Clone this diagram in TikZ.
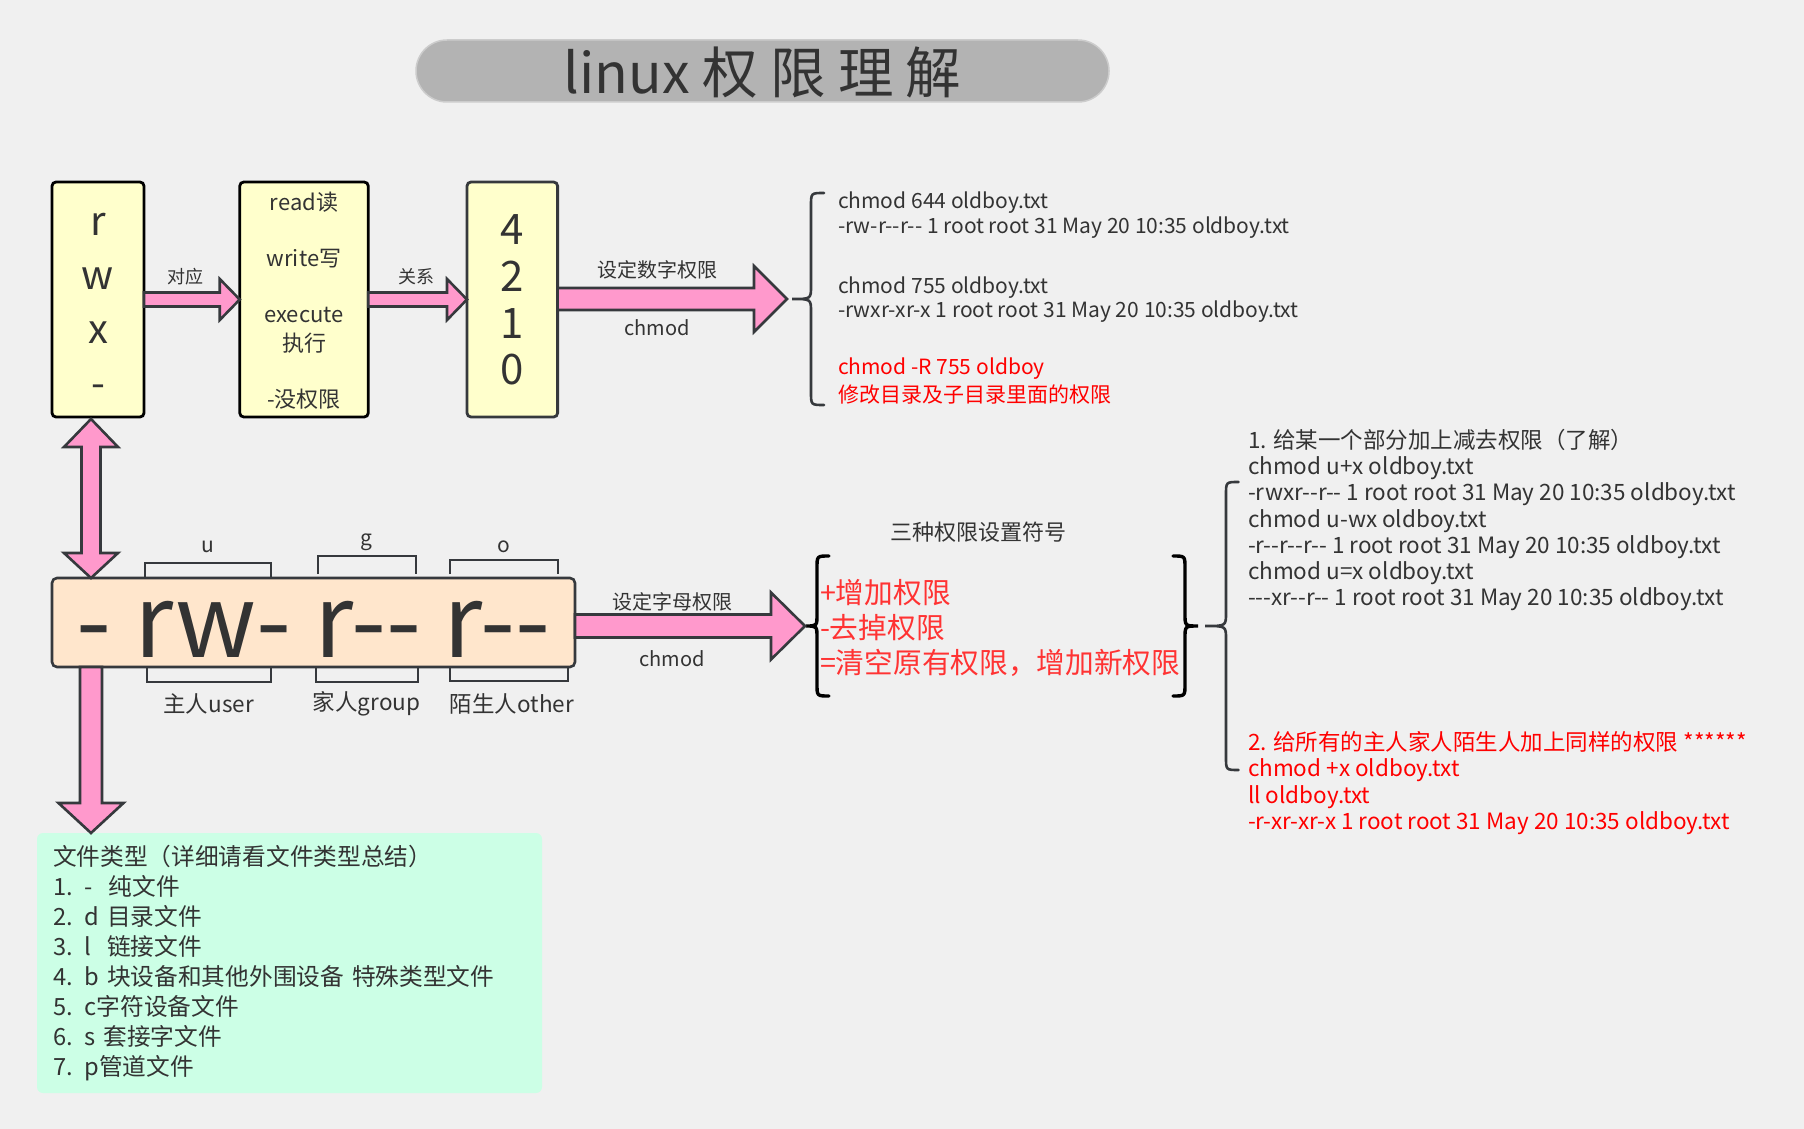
\documentclass[tikz,border=0pt]{standalone}
\usepackage{fontspec}
\newfontfamily\cjk[Ligatures=TeXOff]{Noto Sans CJK SC}
\usetikzlibrary{calc}
\definecolor{bg}{HTML}{F0F0F0}
\definecolor{txt}{HTML}{333333}
\definecolor{edge}{HTML}{36393D}
\definecolor{yel}{HTML}{FFFFCC}
\definecolor{peach}{HTML}{FFE6CC}
\definecolor{pinkf}{HTML}{FF99CC}
\definecolor{mint}{HTML}{CCFFE6}
\definecolor{pillg}{HTML}{B3B3B3}
\definecolor{pilledge}{HTML}{CCCCCC}
\definecolor{redt}{HTML}{FF0000}
\definecolor{redl}{HTML}{FF3333}
\newcommand\fz[2]{\fontsize{#1pt}{#2pt}\selectfont}
\begin{document}
\begin{tikzpicture}[x=1pt,y=-1pt,
  every node/.style={inner sep=0pt, outer sep=0pt, text=txt, font=\cjk},
  ybox/.style={draw=black, line width=2.8pt, fill=yel, rounded corners=4pt, minimum height=235pt},
  fat/.style={draw=edge, fill=pinkf, line width=2.6pt, line join=miter},
  brk/.style={draw=edge, line width=2.4pt},
  bracegray/.style={draw=edge, line width=2.6pt, line cap=round},
  braceblack/.style={draw=black, line width=3.4pt, line cap=round},
  lbl/.style={font=\cjk\fz{18}{22}},
  midlbl/.style={font=\cjk\fz{20}{24}},
]
\fill[bg] (0,0) rectangle (1804,1129);
\useasboundingbox (0,0) rectangle (1804,1129);

% title
\node[fill=pillg, draw=pilledge, line width=1.5pt, rounded corners=31pt,
      minimum width=693pt, minimum height=62pt, text height=44.6pt, text depth=0pt,
      font=\cjk\fz{55.5}{60}] (title) at (762.5,71) {linux 权 限 理 解};

% top boxes
\node[ybox, minimum width=92pt] (rwx) at (98,299.5) {};
\node[font=\cjk\fz{40}{54}, align=center] (rwxt) at (98,305.5) {r\\w\\x\\-};
\node[ybox, minimum width=128.5pt] (read) at (304,299.5) {};
\node[font=\cjk\fz{22}{29}, align=center] (readt) at (304,301) {read读\\[27pt]write写\\[27pt]execute\\执行\\[27pt]-没权限};
\node[ybox, draw=edge, minimum width=90.6pt] (four) at (512.3,299.5) {};
\node[font=\cjk\fz{42}{46.7}, align=center] (fourt) at (512.3,300) {4\\2\\1\\0};

% permission box
\node[draw=edge, line width=2.6pt, fill=peach, rounded corners=5pt,
      minimum width=523pt, minimum height=89pt, text height=69pt, text depth=0pt,
      font=\cjk\fz{101}{110}] (perm) at (313.5,622.5) {- rw- r-- r--};

% u g o brackets
\draw[brk] (145,578) -- (145,563) -- (271,563) -- (271,578);
\draw[brk] (318,574) -- (318,556) -- (416,556) -- (416,574);
\draw[brk] (450,574) -- (450,560) -- (558,560) -- (558,574);
\draw[brk] (147,667) -- (147,682) -- (271,682) -- (271,667);
\draw[brk] (316,667) -- (316,682) -- (418,682) -- (418,667);
\draw[brk] (450,667) -- (450,681) -- (568,681) -- (568,667);
\node[font=\cjk\fz{21}{24}] (lu) at (208,547) {u};
\node[font=\cjk\fz{21}{24}] (lg) at (366.6,542) {g};
\node[font=\cjk\fz{21}{24}] (lo) at (503.6,547) {o};
\node[font=\cjk\fz{22.5}{26}] (lu2) at (208.6,704) {主人user};
\node[font=\cjk\fz{22.5}{26}] (lg2) at (366.6,704) {家人group};
\node[font=\cjk\fz{22.5}{26}] (lo2) at (512,704) {陌生人other};

% file type box
\node[fill=mint, rounded corners=6pt, text width=473pt, inner xsep=16pt,
      minimum height=260pt, align=left, font=\cjk\fz{23.7}{30}] (files) at (289.5,963)
 {文件类型（详细请看文件类型总结）\\
  1. -~~纯文件\\
  2. d 目录文件\\
  3. l~~链接文件\\
  4. b 块设备和其他外围设备 特殊类型文件\\
  5. c字符设备文件\\
  6. s 套接字文件\\
  7. p管道文件};

% braces
\coordinate (b1tip) at (792,299);
\draw[bracegray] (824,193) .. controls (811,193) .. (811,206) -- (811,286)
  .. controls (811,299) .. (b1tip) .. controls (811,299) .. (811,312) -- (811,392)
  .. controls (811,405) .. (824,405);
\coordinate (b2tip) at (806,626);
\draw[braceblack] (829,556) .. controls (817,556) .. (817,568) -- (817,614)
  .. controls (817,626) .. (b2tip) .. controls (817,626) .. (817,638) -- (817,684)
  .. controls (817,696) .. (829,696);
\coordinate (b3tip) at (1198,626);
\draw[braceblack] (1173,556) .. controls (1185,556) .. (1185,568) -- (1185,614)
  .. controls (1185,626) .. (b3tip) .. controls (1185,626) .. (1185,638) -- (1185,684)
  .. controls (1185,696) .. (1173,696);
\coordinate (b4tip) at (1205,626);
\draw[bracegray] (1238.5,482) .. controls (1226,482) .. (1226,495) -- (1226,613)
  .. controls (1226,626) .. (b4tip) .. controls (1226,626) .. (1226,639) -- (1226,757)
  .. controls (1226,770) .. (1238.5,770);

% arrows
\draw[fat] ($(rwx.east)+(0,-7)$) -- ($(read.west)+(-20,-7)$) -- ($(read.west)+(-20,-20.5)$)
  -- (read.west) -- ($(read.west)+(-20,20.5)$) -- ($(read.west)+(-20,7)$) -- ($(rwx.east)+(0,7)$) -- cycle;
\draw[fat] ($(read.east)+(0,-7)$) -- ($(four.west)+(-20,-7)$) -- ($(four.west)+(-20,-20.5)$)
  -- (four.west) -- ($(four.west)+(-20,20.5)$) -- ($(four.west)+(-20,7)$) -- ($(read.east)+(0,7)$) -- cycle;
\coordinate (a3T) at ($(b1tip)+(-5,0)$);
\coordinate (a3S) at (four.east |- a3T);
\draw[fat] ($(a3S)+(0,-11)$) -- ($(a3T)+(-33,-11)$) -- ($(a3T)+(-33,-33)$) -- (a3T)
  -- ($(a3T)+(-33,33)$) -- ($(a3T)+(-33,11)$) -- ($(a3S)+(0,11)$) -- cycle;
\coordinate (a4T) at ($(b2tip)+(-1,0)$);
\coordinate (a4S) at (perm.east |- a4T);
\draw[fat] ($(a4S)+(0,-11.5)$) -- ($(a4T)+(-34,-11.5)$) -- ($(a4T)+(-34,-33.5)$) -- (a4T)
  -- ($(a4T)+(-34,33.5)$) -- ($(a4T)+(-34,11.5)$) -- ($(a4S)+(0,11.5)$) -- cycle;
\coordinate (vT) at ($(rwx.south)+(-7,2)$);
\coordinate (vB) at (vT |- perm.north);
\draw[fat] (vT) -- ($(vT)+(27,28)$) -- ($(vT)+(9.5,28)$) -- ($(vB)+(9.5,-25)$) -- ($(vB)+(27,-25)$)
  -- (vB) -- ($(vB)+(-27,-25)$) -- ($(vB)+(-9.5,-25)$) -- ($(vT)+(-9.5,28)$) -- ($(vT)+(-27,28)$) -- cycle;
\coordinate (dS) at ($(perm.south west)+(39,0)$);
\coordinate (dT) at (dS |- files.north);
\draw[fat] ($(dS)+(-11,0)$) -- ($(dT)+(-11,-30)$) -- ($(dT)+(-32.5,-30)$) -- (dT)
  -- ($(dT)+(32.5,-30)$) -- ($(dT)+(11,-30)$) -- ($(dS)+(11,0)$) -- cycle;

% arrow labels
\node[lbl] (l1) at (185.6,276.7) {对应};
\node[lbl] (l2) at (416,276.7) {关系};
\node[midlbl] (l3) at (657,270) {设定数字权限};
\node[midlbl] (l4) at (657,328) {chmod};
\node[midlbl] (l5) at (672,602) {设定字母权限};
\node[midlbl] (l6) at (672,659) {chmod};

% numeric chmod texts
\node[anchor=west, align=left, font=\cjk\fz{21}{25}] (n1) at (838,215.5)
  {chmod 644 oldboy.txt\\-rw-r--r-- 1 root root 31 May 20 10:35 oldboy.txt};
\node[anchor=west, align=left, font=\cjk\fz{21}{24}] (n2) at (838,300)
  {chmod 755 oldboy.txt\\-rwxr-xr-x 1 root root 31 May 20 10:35 oldboy.txt};
\node[anchor=west, align=left, text=redt, font=\cjk\fz{21}{28}] (n3) at (838,381)
  {chmod -R 755 oldboy\\修改目录及子目录里面的权限};

% symbols
\node[font=\cjk\fz{22}{26}] (symt) at (978,532) {三种权限设置符号};
\node[anchor=west, align=left, text=redl, font=\cjk\fz{28.7}{35}] (sym) at (820,628)
  {+增加权限\\-去掉权限\\=清空原有权限，增加新权限};

% letter chmod texts
\node[anchor=west, align=left, font=\cjk\fz{22.5}{26.1}] (c1) at (1248,520)
  {1. 给某一个部分加上减去权限（了解）\\
   chmod u+x oldboy.txt\\
   -rwxr--r-- 1 root root 31 May 20 10:35 oldboy.txt\\
   chmod u-wx oldboy.txt\\
   -r--r--r-- 1 root root 31 May 20 10:35 oldboy.txt\\
   chmod u=x oldboy.txt\\
   ---xr--r-- 1 root root 31 May 20 10:35 oldboy.txt};
\node[anchor=west, align=left, text=redt, font=\cjk\fz{22.5}{26.5}] (c2) at (1248,783)
  {2. 给所有的主人家人陌生人加上同样的权限 ******\\
   chmod +x oldboy.txt\\
   ll oldboy.txt\\
   -r-xr-xr-x 1 root root 31 May 20 10:35 oldboy.txt};
\end{tikzpicture}
\end{document}
